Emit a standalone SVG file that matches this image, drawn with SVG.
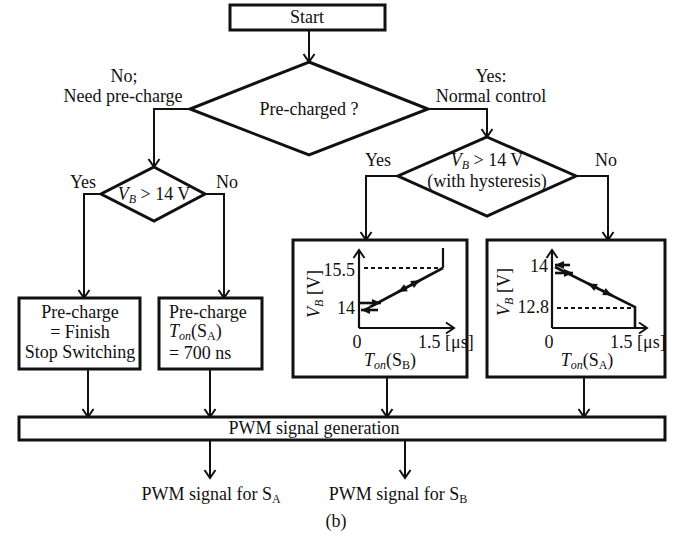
<svg xmlns="http://www.w3.org/2000/svg" width="679" height="538" viewBox="0 0 679 538">
<style>
text{font-family:"Liberation Serif","DejaVu Serif",serif;font-size:18px;fill:#111}
.c{text-anchor:middle}
.e{text-anchor:end}
.i{font-style:italic}
.box{fill:#fff;stroke:#111;stroke-width:3}
.con{fill:none;stroke:#111;stroke-width:2}
.ax{fill:none;stroke:#111;stroke-width:2.2}
.hy{fill:none;stroke:#111;stroke-width:2.6}
.dash{fill:none;stroke:#111;stroke-width:1.8;stroke-dasharray:4 3}
.sub{font-size:12px}
</style>
<defs>
<marker id="arr" viewBox="-10 -7 12 14" markerWidth="12" markerHeight="14" refX="0" refY="0" orient="auto" markerUnits="userSpaceOnUse">
<path d="M-8,-5.5 L0,0 L-8,5.5" fill="none" stroke="#111" stroke-width="2"/>
</marker>
<marker id="tri" viewBox="-11 -6 12 12" markerWidth="12" markerHeight="12" refX="0" refY="0" orient="auto" markerUnits="userSpaceOnUse">
<path d="M-9,-4 L0,0 L-9,4 Z" fill="#111"/>
</marker>
</defs>

<g id="connectors">
<path class="con" d="M309,30 V62" marker-end="url(#arr)"/>
<path class="con" d="M190,109 H154 V167" marker-end="url(#arr)"/>
<path class="con" d="M428,109 H487 V137" marker-end="url(#arr)"/>
<path class="con" d="M101,194 H84 V298" marker-end="url(#arr)"/>
<path class="con" d="M205,194 H224 V298" marker-end="url(#arr)"/>
<path class="con" d="M398,176 H366 V240" marker-end="url(#arr)"/>
<path class="con" d="M576,176 H608 V240" marker-end="url(#arr)"/>
<path class="con" d="M88,369 V417" marker-end="url(#arr)"/>
<path class="con" d="M210,369 V417" marker-end="url(#arr)"/>
<path class="con" d="M387,377 V417" marker-end="url(#arr)"/>
<path class="con" d="M584,377 V417" marker-end="url(#arr)"/>
<path class="con" d="M210,440 V478" marker-end="url(#arr)"/>
<path class="con" d="M405,440 V478" marker-end="url(#arr)"/>
</g>

<g id="start">
<rect class="box" x="230" y="5" width="155" height="25"/>
<text class="c" x="307" y="23">Start</text>
</g>

<g id="precharged">
<polygon class="box" points="309,62 428,109 309,155 190,109"/>
<text class="c" x="309" y="115">Pre-charged ?</text>
</g>

<g id="label-no">
<text class="c" x="124" y="82">No;</text>
<text class="c" x="123" y="102">Need pre-charge</text>
</g>
<g id="label-yes">
<text class="c" x="491" y="82">Yes:</text>
<text class="c" x="491" y="102">Normal control</text>
</g>

<g id="vb-left">
<polygon class="box" points="154,167 205,194 154,221 101,194"/>
<text class="c" x="154" y="200"><tspan class="i">V</tspan><tspan class="sub i" dy="3">B</tspan><tspan dy="-3"> &gt; 14 V</tspan></text>
<text class="c" x="83" y="188">Yes</text>
<text class="c" x="227" y="188">No</text>
</g>

<g id="vb-right">
<polygon class="box" points="487,137 576,176 487,216 398,176"/>
<text class="c" x="487" y="166"><tspan class="i">V</tspan><tspan class="sub i" dy="3">B</tspan><tspan dy="-3"> &gt; 14 V</tspan></text>
<text class="c" x="487" y="187">(with hysteresis)</text>
<text class="c" x="378" y="166">Yes</text>
<text class="c" x="606" y="166">No</text>
</g>

<g id="finish">
<rect class="box" x="19" y="298" width="121" height="71"/>
<text class="c" x="80" y="318">Pre-charge</text>
<text class="c" x="80" y="338">= Finish</text>
<text class="c" x="80" y="358">Stop Switching</text>
</g>

<g id="precharge700">
<rect class="box" x="159" y="298" width="103" height="71"/>
<text x="169" y="318">Pre-charge</text>
<text x="169" y="337"><tspan class="i">T</tspan><tspan class="sub i" dy="3">on</tspan><tspan dy="-3">(S</tspan><tspan class="sub" dy="3">A</tspan><tspan dy="-3">)</tspan></text>
<text x="169" y="359">= 700 ns</text>
</g>

<g id="graph-b">
<rect class="box" x="293" y="240" width="174" height="137"/>
<path class="ax" d="M359,328 V250" marker-end="url(#arr)"/>
<path class="ax" d="M359,328 H454" marker-end="url(#arr)"/>
<path class="dash" d="M364,268 H443"/>
<path class="ax" d="M443,268 V248"/>
<path class="hy" d="M370,307 L443,268"/>
<path class="hy" d="M410,285.6 L420,280.3" marker-end="url(#tri)"/>
<path class="hy" d="M408,286.7 L398,292" marker-end="url(#tri)"/>
<path class="hy" d="M359,303 H381" marker-end="url(#tri)"/>
<path class="hy" d="M378,310 H361" marker-end="url(#tri)"/>
<text class="e" x="355" y="276">15.5</text>
<text class="e" x="355" y="314">14</text>
<text class="c" x="357" y="348">0</text>
<text x="418" y="348">1.5 [μs]</text>
<text class="c" x="390" y="366"><tspan class="i">T</tspan><tspan class="sub i" dy="3">on</tspan><tspan dy="-3">(S</tspan><tspan class="sub" dy="3">B</tspan><tspan dy="-3">)</tspan></text>
<text class="c" transform="translate(320,294) rotate(-90)"><tspan class="i">V</tspan><tspan class="sub i" dy="3">B</tspan><tspan dy="-3"> [V]</tspan></text>
</g>

<g id="graph-a">
<rect class="box" x="487" y="240" width="178" height="137"/>
<path class="ax" d="M552,328 V250" marker-end="url(#arr)"/>
<path class="ax" d="M552,328 H647" marker-end="url(#arr)"/>
<path class="hy" d="M555,267 L635,307 V328"/>
<path class="dash" d="M557,308 H635"/>
<path class="hy" d="M570,265 H555" marker-end="url(#tri)"/>
<path class="hy" d="M555,273 H573" marker-end="url(#tri)"/>
<path class="hy" d="M598,288.5 L588,283.5" marker-end="url(#tri)"/>
<path class="hy" d="M602,290.5 L612,295.5" marker-end="url(#tri)"/>
<text class="e" x="548" y="272">14</text>
<text class="e" x="549" y="313">12.8</text>
<text class="c" x="549" y="348">0</text>
<text x="610" y="348">1.5 [μs]</text>
<text class="c" x="587" y="366"><tspan class="i">T</tspan><tspan class="sub i" dy="3">on</tspan><tspan dy="-3">(S</tspan><tspan class="sub" dy="3">A</tspan><tspan dy="-3">)</tspan></text>
<text class="c" transform="translate(510,292) rotate(-90)"><tspan class="i">V</tspan><tspan class="sub i" dy="3">B</tspan><tspan dy="-3"> [V]</tspan></text>
</g>

<g id="pwm">
<rect class="box" x="19" y="417" width="646" height="23"/>
<text class="c" x="314" y="434">PWM signal generation</text>
</g>

<g id="out-a">
<text class="c" x="211" y="500">PWM signal for S<tspan class="sub" dy="3">A</tspan></text>
</g>
<g id="out-b">
<text class="c" x="398" y="500">PWM signal for S<tspan class="sub" dy="3">B</tspan></text>
</g>
<g id="caption">
<text class="c" x="336" y="527">(b)</text>
</g>
</svg>
